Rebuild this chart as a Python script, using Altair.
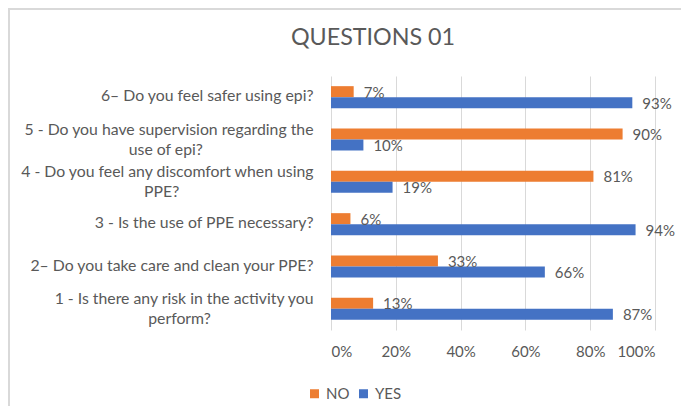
import altair as alt
import pandas as pd

EN = "\u2002"
ZW = "\u200b"

questions = [
    "6– Do you feel safer using epi?",
    "5 - Do you have supervision regarding the|use of epi?",
    "4 - Do you feel any discomfort when using|PPE?",
    "3 - Is the use of PPE necessary?",
    "2– Do you take care and clean your PPE?",
    "1 - Is there any risk in the activity you|perform?",
]
no_vals = [0.07, 0.90, 0.81, 0.06, 0.33, 0.13]
yes_vals = [0.93, 0.10, 0.19, 0.94, 0.66, 0.87]
series = ["NO", "YES"]
colors = ["#ED7D31", "#4472C4"]

# en-space padding so the second line sits centred under the first
pad = {1: 14, 2: 17, 5: 13}

def fmt(i, q):
    if "|" in q and i in pad:
        a, b = q.split("|")
        return a + "|" + b + EN * pad[i] + ZW
    return q

labels = [fmt(i, q) for i, q in enumerate(questions)]

rows = []
for lab, n, y in zip(labels, no_vals, yes_vals):
    rows.append({"question": lab, "series": "NO", "value": n})
    rows.append({"question": lab, "series": "YES", "value": y})
df = pd.DataFrame(rows)

FONT = "Lato"
GREY = "#595959"

base = alt.Chart(df).encode(
    y=alt.Y(
        "question:N",
        sort=labels,
        scale=alt.Scale(paddingInner=0.48, paddingOuter=0.24),
        axis=alt.Axis(
            title=None,
            labelExpr="split(datum.label, '|')",
            labelAlign="right",
            labelPadding=18,
            labelLimit=400,
            ticks=False,
            domain=False,
            labelFontSize=15.8,
            labelColor=GREY,
            labelFont=FONT,
            labelLineHeight=20.5,
            labelOffset={
                "condition": {"test": "indexof(datum.value, '|') >= 0", "value": -10},
                "value": -1,
            },
        ),
    ),
    yOffset=alt.YOffset(
        "series:N", sort=series, scale=alt.Scale(paddingInner=0, paddingOuter=0)
    ),
    x=alt.X(
        "value:Q",
        scale=alt.Scale(domain=[0, 1]),
        axis=alt.Axis(
            title=None,
            format=".0%",
            values=[0, 0.2, 0.4, 0.6, 0.8, 1.0],
            grid=True,
            gridColor="#d9d9d9",
            gridWidth=1,
            domain=False,
            ticks=False,
            labelPadding=14,
            labelFontSize=15,
            labelColor=GREY,
            labelFont=FONT,
        ),
    ),
)

bars = base.mark_bar().encode(
    color=alt.Color(
        "series:N",
        scale=alt.Scale(domain=series, range=colors),
        legend=alt.Legend(
            title=None,
            orient="none",
            legendX=-24,
            legendY=310,
            direction="horizontal",
            symbolType="square",
            symbolSize=81,
            symbolStrokeWidth=0,
            labelFontSize=15,
            labelColor=GREY,
            labelFont=FONT,
            columnPadding=6,
            labelOffset=4,
        ),
    )
)

text = base.mark_text(
    align="left", baseline="middle", dx=10, dy=1, fontSize=15, color=GREY, font=FONT
).encode(text=alt.Text("value:Q", format=".0%"))

border_df = pd.DataFrame({"k": [0]})
left_border = alt.Chart(border_df).mark_rule(color="#d9d9d9", strokeWidth=2).encode(
    x=alt.value(-322), y=alt.value(-67), y2=alt.value(330)
)
top_border = alt.Chart(border_df).mark_rule(color="#d9d9d9", strokeWidth=2).encode(
    y=alt.value(-67), x=alt.value(-323), x2=alt.value(350)
)

chart = (
    alt.layer(left_border, top_border, bars, text)
    .properties(
        width=324,
        height=254,
        padding={"left": 323, "top": 68, "right": 26, "bottom": 76},
        autosize=alt.AutoSizeParams(type="none"),
        title=alt.TitleParams(
            "QUESTIONS 01",
            fontSize=23.3,
            color=GREY,
            font=FONT,
            fontWeight="normal",
            anchor="middle",
            frame="group",
            dx=-120,
            offset=-42,
        ),
    )
    .configure_view(stroke=None)
)

chart.save("out.html", embed_options={"renderer": "svg", "actions": False})
